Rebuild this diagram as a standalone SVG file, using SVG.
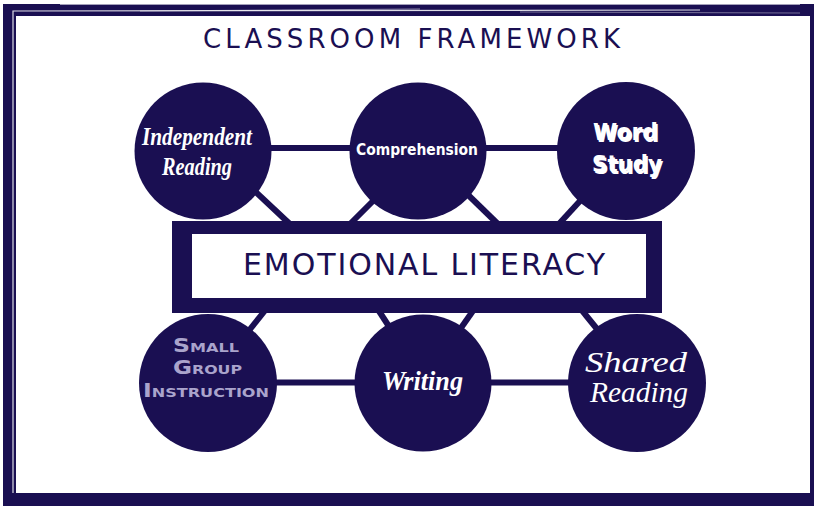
<svg xmlns="http://www.w3.org/2000/svg" width="817" height="506" viewBox="0 0 817 506">
  <style>
    .navy { fill: #1a0f52; }
    .conn { stroke: #1a0f52; stroke-width: 6; fill: none; }
    .node circle { fill: #1a0f52; }
    .title { font-family: "DejaVu Sans", "Liberation Sans", sans-serif; fill: #1a0f52; }
    .script { font-family: "Liberation Serif", serif; font-style: italic; fill: #ffffff; }
    .bold { font-family: "DejaVu Sans", "Liberation Sans", sans-serif; font-weight: bold; fill: #ffffff; }
    .deco { font-family: "DejaVu Sans", "Liberation Sans", sans-serif; font-weight: bold; fill: #aaa4cc; font-variant: small-caps; }
    .streak { stroke: #ffffff; fill: none; }
  </style>

  <!-- frame -->
  <g id="frame">
    <rect x="0" y="0" width="817" height="506" fill="#ffffff"/>
    <rect x="3" y="4" width="811" height="502" class="navy"/>
    <rect x="16" y="16" width="794" height="477" fill="#ffffff"/>
    <path class="streak" d="M13,493 L13,11 L700,10" stroke-width="1.2" opacity="0.85"/>
    <path class="streak" d="M140,11 L420,9" stroke-width="1" opacity="0.5"/>
    <path class="streak" d="M520,12 L800,13" stroke-width="0.8" opacity="0.5"/>
    <path class="streak" d="M60,4 L800,4" stroke-width="2" opacity="0.6"/>
  </g>

  <text class="title" x="203" y="48" font-size="26" textLength="417" lengthAdjust="spacing">CLASSROOM FRAMEWORK</text>

  <!-- connectors -->
  <g id="connectors">
    <line class="conn" x1="203" y1="148" x2="418" y2="148"/>
    <line class="conn" x1="418" y1="148" x2="626" y2="148"/>
    <line class="conn" x1="208" y1="382.5" x2="423" y2="382.5"/>
    <line class="conn" x1="423" y1="382.5" x2="637" y2="382.5"/>
    <line class="conn" x1="212" y1="151" x2="292" y2="226"/>
    <line class="conn" x1="422" y1="152" x2="348" y2="226"/>
    <line class="conn" x1="424" y1="152" x2="500" y2="226"/>
    <line class="conn" x1="626" y1="151" x2="557" y2="226"/>
    <line class="conn" x1="208" y1="382" x2="267" y2="308"/>
    <line class="conn" x1="425" y1="382" x2="377" y2="308"/>
    <line class="conn" x1="423" y1="382" x2="475" y2="308"/>
    <line class="conn" x1="640" y1="382" x2="580" y2="308"/>
  </g>

  <!-- nodes -->
  <g id="independent-reading" class="node">
    <circle cx="203" cy="151" r="68.5"/>
    <text class="script" font-weight="bold" font-size="25" x="142" y="145" textLength="110" lengthAdjust="spacingAndGlyphs">Independent</text>
    <text class="script" font-weight="bold" font-size="25" x="162" y="175" textLength="70" lengthAdjust="spacingAndGlyphs">Reading</text>
  </g>

  <g id="comprehension" class="node">
    <circle cx="418" cy="151" r="68.5"/>
    <text class="bold" font-size="16" x="356" y="155" textLength="122" lengthAdjust="spacingAndGlyphs">Comprehension</text>
  </g>

  <g id="word-study" class="node">
    <circle cx="626" cy="151" r="69"/>
    <text class="bold" font-size="23" x="594.5" y="141.5" fill="#8f8aa8" textLength="65" lengthAdjust="spacingAndGlyphs">Word</text>
    <text class="bold" font-size="23" x="593.5" y="173.5" fill="#8f8aa8" textLength="70" lengthAdjust="spacingAndGlyphs">Study</text>
    <text class="bold" font-size="23" x="593" y="140" textLength="65" lengthAdjust="spacingAndGlyphs">Word</text>
    <text class="bold" font-size="23" x="592" y="172" textLength="70" lengthAdjust="spacingAndGlyphs">Study</text>
  </g>

  <g id="small-group-instruction" class="node">
    <circle cx="208" cy="383" r="69"/>
    <text class="deco" font-size="19" x="173" y="352" textLength="66" lengthAdjust="spacingAndGlyphs">Small</text>
    <text class="deco" font-size="19" x="173" y="374" textLength="69" lengthAdjust="spacingAndGlyphs">Group</text>
    <text class="deco" font-size="19" x="143" y="397" textLength="126" lengthAdjust="spacingAndGlyphs">Instruction</text>
  </g>

  <g id="writing" class="node">
    <circle cx="423" cy="383" r="68.5"/>
    <text class="script" font-weight="bold" font-size="27" x="382" y="390" textLength="81" lengthAdjust="spacingAndGlyphs">Writing</text>
  </g>

  <g id="shared-reading" class="node">
    <circle cx="637" cy="383" r="69"/>
    <text class="script" font-size="29" x="585" y="372" textLength="102" lengthAdjust="spacingAndGlyphs">Shared</text>
    <text class="script" font-size="29" x="590" y="402" textLength="98" lengthAdjust="spacingAndGlyphs">Reading</text>
  </g>

  <g id="emotional-literacy" class="node">
    <rect x="172" y="221" width="490" height="92" class="navy"/>
    <rect x="192" y="234" width="454" height="64" fill="#ffffff"/>
    <text class="title" font-size="30" x="243" y="275" textLength="362" lengthAdjust="spacing">EMOTIONAL LITERACY</text>
  </g>
</svg>
